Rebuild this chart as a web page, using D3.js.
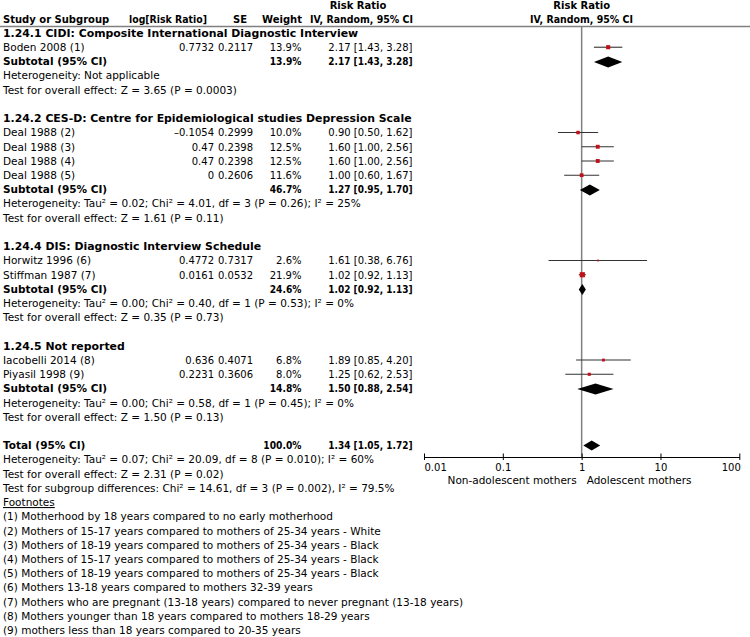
<!DOCTYPE html>
<html>
<head>
<meta charset="utf-8">
<script src="https://cdn.jsdelivr.net/npm/d3@7"></script>
<style>
  html, body { margin: 0; padding: 0; background: #fff; }
  svg { display: block; }
  text { font-family: "DejaVu Sans", sans-serif; font-size: 10.5px; fill: #000; }
  .b { font-weight: bold; }
  .h { font-weight: bold; font-size: 10.9px; }
  .hd { font-weight: bold; font-size: 10px; }
  .num { font-size: 10px; }
  .numb { font-size: 10px; font-weight: bold; }
  .ax { font-size: 10px; }
</style>
</head>
<body>
<svg id="chart" width="750" height="637"></svg>
<script>
// ---------- data ----------
const studies = ["Boden 2008 (1)", "Deal 1988 (2)", "Deal 1988 (3)", "Deal 1988 (4)", "Deal 1988 (5)",
                 "Horwitz 1996 (6)", "Stiffman 1987 (7)", "Iacobelli 2014 (8)", "Piyasil 1998 (9)"];
const studyGroup = [0, 1, 1, 1, 1, 2, 2, 3, 3];
const logRR = [0.7732, -0.1054, 0.47, 0.47, 0, 0.4772, 0.0161, 0.636, 0.2231];
const seVals = [0.2117, 0.2999, 0.2398, 0.2398, 0.2606, 0.7317, 0.0532, 0.4071, 0.3606];
const weights = [13.9, 10.0, 12.5, 12.5, 11.6, 2.6, 21.9, 6.8, 8.0];
const rr = [2.17, 0.90, 1.60, 1.60, 1.00, 1.61, 1.02, 1.89, 1.25];
const rrLo = [1.43, 0.50, 1.00, 1.00, 0.60, 0.38, 0.92, 0.85, 0.62];
const rrHi = [3.28, 1.62, 2.56, 2.56, 1.67, 6.76, 1.13, 4.20, 2.53];

const subgroupNames = ["1.24.1 CIDI: Composite International Diagnostic Interview",
                       "1.24.2 CES-D: Centre for Epidemiological studies Depression Scale",
                       "1.24.4 DIS: Diagnostic Interview Schedule",
                       "1.24.5 Not reported"];
const subWeights = [13.9, 46.7, 24.6, 14.8];
const subRR = [2.17, 1.27, 1.02, 1.50];
const subLo = [1.43, 0.95, 0.92, 0.88];
const subHi = [3.28, 1.70, 1.13, 2.54];
const subHet = ["Heterogeneity: Not applicable",
                "Heterogeneity: Tau² = 0.02; Chi² = 4.01, df = 3 (P = 0.26); I² = 25%",
                "Heterogeneity: Tau² = 0.00; Chi² = 0.40, df = 1 (P = 0.53); I² = 0%",
                "Heterogeneity: Tau² = 0.00; Chi² = 0.58, df = 1 (P = 0.45); I² = 0%"];
const subTest = ["Test for overall effect: Z = 3.65 (P = 0.0003)",
                 "Test for overall effect: Z = 1.61 (P = 0.11)",
                 "Test for overall effect: Z = 0.35 (P = 0.73)",
                 "Test for overall effect: Z = 1.50 (P = 0.13)"];
const totalWeight = 100.0, totalRR = 1.34, totalLo = 1.05, totalHi = 1.72;
const totalLines = ["Heterogeneity: Tau² = 0.07; Chi² = 20.09, df = 8 (P = 0.010); I² = 60%",
                    "Test for overall effect: Z = 2.31 (P = 0.02)",
                    "Test for subgroup differences: Chi² = 14.61, df = 3 (P = 0.002), I² = 79.5%"];
const footnotes = ["(1) Motherhood by 18 years compared to no early motherhood",
  "(2) Mothers of 15-17 years compared to mothers of 25-34 years - White",
  "(3) Mothers of 18-19 years compared to mothers of 25-34 years - Black",
  "(4) Mothers of 15-17 years compared to mothers of 25-34 years - Black",
  "(5) Mothers of 18-19 years compared to mothers of 25-34 years - Black",
  "(6) Mothers 13-18 years compared to mothers 32-39 years",
  "(7) Mothers who are pregnant (13-18 years) compared to never pregnant (13-18 years)",
  "(8) Mothers younger than 18 years compared to mothers 18-29 years",
  "(9) mothers less than 18 years compared to 20-35 years"];
const axisTicks = [0.01, 0.1, 1, 10, 100];
const axisTickLabels = ["0.01", "0.1", "1", "10", "100"];
const favoursLeft = "Non-adolescent mothers";
const favoursRight = "Adolescent mothers";

// ---------- layout ----------
const svg = d3.select("#chart");
const rowY0 = 33, rowH = 14.22;
const yRow = i => rowY0 + i * rowH;
const x = d3.scaleLog().domain([0.01, 100]).range([424, 739.3]);
const colLog = 214, colSE = 253, colW = 301.5, colCI = 412.5;
const axisY = 457;
const fmt2 = d3.format(".2f");
const ciStr = (a, l, h) => `${fmt2(a)} [${fmt2(l)}, ${fmt2(h)}]`;
const dash = s => s.replace("-", "\u2013");

// bold text squeezed to the width of the same string in regular weight
function boldAsRegular(sel) {
  const t = sel.text();
  const tmp = svg.append("text").attr("class", "num").text(t);
  const w = tmp.node().getComputedTextLength();
  tmp.remove();
  sel.attr("textLength", w).attr("lengthAdjust", "spacingAndGlyphs");
  return sel;
}
function fitWidth(sel, w) {
  return sel.attr("textLength", w).attr("lengthAdjust", "spacingAndGlyphs");
}

// build row list
const rows = [];
let r = 0;
subgroupNames.forEach((name, g) => {
  rows.push({type: "heading", i: r++, text: name});
  studies.forEach((s, k) => { if (studyGroup[k] === g) rows.push({type: "study", i: r++, k}); });
  rows.push({type: "subtotal", i: r++, g});
  rows.push({type: "text", i: r++, text: subHet[g]});
  rows.push({type: "text", i: r++, text: subTest[g]});
  r++; // blank
});
rows.push({type: "total", i: r++});
totalLines.forEach(t => rows.push({type: "text", i: r++, text: t}));
rows.push({type: "foothead", i: r++, text: "Footnotes"});
footnotes.forEach(t => rows.push({type: "text", i: r++, text: t}));

// header
svg.append("text").attr("class", "hd").attr("x", 358).attr("y", 9).attr("text-anchor", "middle").text("Risk Ratio");
svg.append("text").attr("class", "hd").attr("x", 581.7).attr("y", 9).attr("text-anchor", "middle").text("Risk Ratio");
svg.append("text").attr("class", "hd").attr("x", 3).attr("y", 23).attr("font-size", "10.4px").text("Study or Subgroup");
fitWidth(svg.append("text").attr("class", "hd").attr("x", 129).attr("y", 23).text("log[Risk Ratio]"), 78);
svg.append("text").attr("class", "hd").attr("x", 247).attr("y", 23).attr("text-anchor", "end").text("SE");
svg.append("text").attr("class", "hd").attr("x", 302).attr("y", 23).attr("text-anchor", "end").text("Weight");
fitWidth(svg.append("text").attr("class", "hd").attr("x", 310).attr("y", 23).text("IV, Random, 95% CI"), 103);
fitWidth(svg.append("text").attr("class", "hd").attr("x", 530).attr("y", 23).text("IV, Random, 95% CI"), 103);
svg.append("line").attr("x1", 0).attr("x2", 750).attr("y1", 26.5).attr("y2", 26.5)
  .attr("stroke", "#808080").attr("stroke-width", 1.5);

// vertical line of no effect
svg.append("line").attr("x1", x(1)).attr("x2", x(1)).attr("y1", 26.5).attr("y2", axisY)
  .attr("stroke", "#808080").attr("stroke-width", 1.5);

const base = i => yRow(i) + 3.8;
const diamond = (cy, lo, mid, hi, h) =>
  `M${x(lo)},${cy} L${x(mid)},${cy - h / 2} L${x(hi)},${cy} L${x(mid)},${cy + h / 2} Z`;

rows.forEach(d => {
  const yb = base(d.i), yc = yRow(d.i);
  if (d.type === "heading") {
    svg.append("text").attr("class", "h").attr("x", 3).attr("y", yb).text(d.text);
  } else if (d.type === "text") {
    svg.append("text").attr("x", 3).attr("y", yb).text(d.text);
  } else if (d.type === "foothead") {
    svg.append("text").attr("x", 3).attr("y", yb).attr("text-decoration", "underline").text(d.text);
  } else if (d.type === "study") {
    const k = d.k;
    svg.append("text").attr("x", 3).attr("y", yb).text(studies[k]);
    svg.append("text").attr("class", "num").attr("x", colLog).attr("y", yb).attr("text-anchor", "end").text(dash(String(logRR[k])));
    svg.append("text").attr("class", "num").attr("x", colSE).attr("y", yb).attr("text-anchor", "end").text(String(seVals[k]));
    svg.append("text").attr("class", "num").attr("x", colW).attr("y", yb).attr("text-anchor", "end").text(weights[k].toFixed(1) + "%");
    svg.append("text").attr("class", "num").attr("x", colCI).attr("y", yb).attr("text-anchor", "end").text(ciStr(rr[k], rrLo[k], rrHi[k]));
    svg.append("line").attr("x1", x(rrLo[k])).attr("x2", x(rrHi[k])).attr("y1", yc).attr("y2", yc)
      .attr("stroke", "#333").attr("stroke-width", 1.1);
    const s = Math.sqrt(weights[k]) * 1.1;
    svg.append("rect").attr("x", x(rr[k]) - s / 2).attr("y", yc - s / 2).attr("width", s).attr("height", s)
      .attr("fill", "#c0101a");
  } else if (d.type === "subtotal") {
    const g = d.g;
    svg.append("text").attr("class", "b").attr("x", 3).attr("y", yb).attr("font-size", "10.1px").text("Subtotal (95% CI)");
    boldAsRegular(svg.append("text").attr("class", "numb").attr("x", colW).attr("y", yb).attr("text-anchor", "end").text(subWeights[g].toFixed(1) + "%"));
    boldAsRegular(svg.append("text").attr("class", "numb").attr("x", colCI).attr("y", yb).attr("text-anchor", "end").text(ciStr(subRR[g], subLo[g], subHi[g])));
    svg.append("path").attr("d", diamond(yc + 0.5, subLo[g], subRR[g], subHi[g], 11)).attr("fill", "#000");
  } else if (d.type === "total") {
    svg.append("text").attr("class", "b").attr("x", 3).attr("y", yb).attr("font-size", "10.1px").text("Total (95% CI)");
    boldAsRegular(svg.append("text").attr("class", "numb").attr("x", colW).attr("y", yb).attr("text-anchor", "end").text(totalWeight.toFixed(1) + "%"));
    boldAsRegular(svg.append("text").attr("class", "numb").attr("x", colCI).attr("y", yb).attr("text-anchor", "end").text(ciStr(totalRR, totalLo, totalHi)));
    svg.append("path").attr("d", diamond(yc, totalLo, totalRR, totalHi, 10)).attr("fill", "#000");
  }
});

// axis
const axis = d3.axisBottom(x).tickValues(axisTicks).tickSize(0).tickFormat(() => "");
const ag = svg.append("g").attr("transform", `translate(0,${axisY})`).call(axis);
ag.select(".domain").attr("stroke", "#000").attr("stroke-width", 1);
ag.selectAll(".tick").each(function(v, j) {
  const t = d3.select(this);
  t.append("line").attr("y1", -3.5).attr("y2", 3).attr("stroke", "#000");
  t.append("text").attr("class", "ax").attr("y", 13.5)
    .attr("text-anchor", j === 0 ? "start" : (j === axisTicks.length - 1 ? "end" : "middle"))
    .attr("x", j === axisTicks.length - 1 ? 1 : 0)
    .style("font-family", '"DejaVu Sans", sans-serif').style("font-size", "10px").attr("fill", "#000")
    .text(axisTickLabels[j]);
});
svg.append("text").attr("x", x(1) - 5).attr("y", axisY + 27).attr("text-anchor", "end").attr("font-size", "10.3px").text(favoursLeft);
svg.append("text").attr("x", x(1) + 5).attr("y", axisY + 27).attr("text-anchor", "start").attr("font-size", "10.3px").text(favoursRight);
</script>
</body>
</html>
